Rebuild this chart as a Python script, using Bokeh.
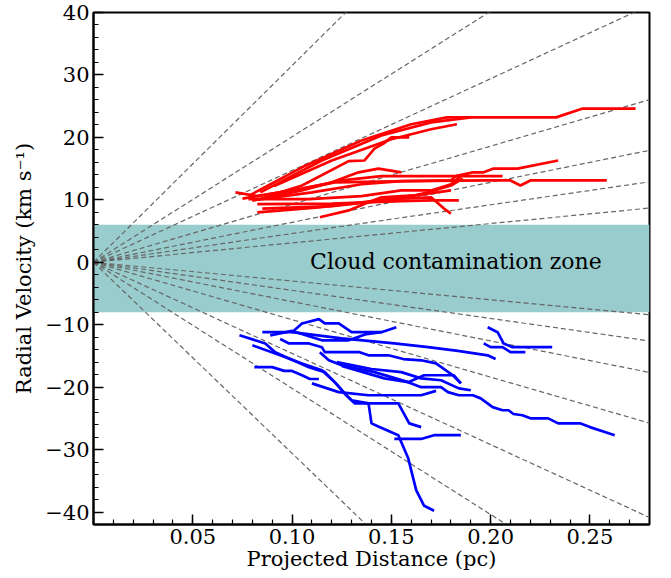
from bokeh.plotting import figure
from bokeh.models import Range1d, FixedTicker, BoxAnnotation, Label
from bokeh.embed import file_html
from bokeh.resources import INLINE

# ---- data -------------------------------------------------------------
# velocity-gradient guide lines (km/s/pc), drawn from the origin
guide_slopes_pos = [31, 46, 64, 93, 147, 201, 315]
guide_slopes_neg = [-30, -45, -63, -92, -146, -202, -306]

# cloud contamination zone (km/s)
zone_bottom = -8
zone_top = 6
zone_label = "Cloud contamination zone"

# red-shifted tracks: (projected distance pc, radial velocity km/s)
red_x = [
    [0.078, 0.105, 0.135, 0.160, 0.178, 0.233, 0.246, 0.273],
    [0.084, 0.115, 0.145, 0.170, 0.190],
    [0.091, 0.120, 0.150, 0.170, 0.183],
    [0.086, 0.105, 0.1285, 0.1365, 0.1415, 0.146, 0.150, 0.159],
    [0.080, 0.105, 0.120, 0.1335, 0.1435, 0.155],
    [0.0715, 0.0825, 0.105, 0.1215, 0.180, 0.1825, 0.191, 0.1965, 0.2015, 0.2135, 0.234],
    [0.075, 0.100, 0.125, 0.145, 0.1825, 0.206],
    [0.080, 0.110, 0.135, 0.155, 0.1985, 0.210, 0.215, 0.220, 0.2585],
    [0.078, 0.1085, 0.135, 0.155, 0.170, 0.180, 0.185],
    [0.0825, 0.120, 0.155, 0.170, 0.184],
    [0.085, 0.120, 0.155, 0.170, 0.1765, 0.180],
    [0.0825, 0.1135, 0.135, 0.155, 0.180],
    [0.114, 0.1285, 0.1385, 0.145, 0.1615, 0.1685, 0.180, 0.186],
]
red_y = [
    [10.6, 15.2, 19.5, 22.1, 23.2, 23.2, 24.6, 24.6],
    [11.2, 16.3, 20.3, 22.4, 23.2],
    [12.2, 16.3, 19.7, 21.3, 22.1],
    [10.4, 12.3, 16.2, 16.3, 18.2, 19.0, 20.0, 20.0],
    [9.9, 11.5, 12.8, 14.4, 15.0, 14.4],
    [11.2, 10.6, 11.8, 12.8, 13.1, 13.8, 14.4, 14.4, 15.0, 15.0, 16.3],
    [10.2, 11.5, 13.1, 13.8, 13.8, 13.8],
    [9.9, 11.2, 12.5, 13.0, 13.1, 13.1, 12.3, 13.1, 13.1],
    [10.1, 10.1, 10.6, 11.5, 11.5, 12.5, 13.8],
    [9.3, 9.4, 9.8, 9.9, 9.9],
    [8.6, 9.0, 10.2, 10.4, 8.6, 7.8],
    [8.0, 8.8, 9.6, 10.4, 11.5],
    [7.2, 8.3, 9.6, 10.4, 10.7, 11.2, 12.3, 13.4],
]

# blue-shifted tracks
blue_x = [
    [0.085, 0.100, 0.105, 0.1135, 0.1165, 0.1235, 0.130, 0.145, 0.1525],
    [0.089, 0.100, 0.115, 0.1285, 0.1375, 0.145],
    [0.100, 0.125, 0.1515, 0.1685, 0.1835, 0.1985, 0.2025],
    [0.094, 0.0985, 0.1085, 0.115, 0.1165, 0.134, 0.1385, 0.1485, 0.156, 0.165, 0.1725, 0.181, 0.185],
    [0.125, 0.1465, 0.1585, 0.165, 0.175, 0.1785, 0.184, 0.191, 0.195, 0.201, 0.206, 0.209,
     0.2115, 0.216, 0.220, 0.229, 0.234, 0.245, 0.250, 0.2625],
    [0.110, 0.1235, 0.1385, 0.165, 0.1725],
    [0.1515, 0.165, 0.1715, 0.185],
    [0.081, 0.090, 0.096, 0.100, 0.105, 0.109, 0.1135],
    [0.114, 0.1185, 0.125, 0.1415, 0.150, 0.1585, 0.1665, 0.1815, 0.185],
    [0.1225, 0.140, 0.155, 0.165, 0.175, 0.184, 0.190],
    [0.1985, 0.2035, 0.2065, 0.211, 0.231],
    [0.1965, 0.200, 0.206, 0.210, 0.2175],
    [0.0735, 0.0865, 0.0915, 0.0985, 0.1085, 0.1165, 0.1215, 0.1265, 0.130, 0.1385, 0.1535, 0.159, 0.165],
    [0.080, 0.094, 0.105, 0.115, 0.1215, 0.1275, 0.1315, 0.1385, 0.140, 0.144, 0.1535, 0.1585,
     0.1625, 0.1665, 0.1715],
]
blue_y = [
    [-11.2, -11.2, -9.8, -9.1, -9.8, -9.8, -11.2, -11.2, -10.4],
    [-11.7, -11.0, -12.5, -12.5, -11.5, -11.2],
    [-11.2, -12.2, -13.0, -13.6, -14.2, -14.9, -15.5],
    [-12.3, -13.0, -13.0, -13.6, -14.4, -14.4, -14.9, -14.9, -15.5, -15.7, -16.2, -18.1, -19.4],
    [-16.6, -18.6, -19.2, -20.0, -20.0, -20.8, -21.3, -21.3, -21.8, -23.2, -23.7, -23.7,
     -24.3, -24.5, -25.0, -25.0, -25.8, -25.8, -26.4, -27.7],
    [-19.4, -20.8, -21.3, -21.3, -20.6],
    [-28.3, -28.3, -27.7, -27.7],
    [-16.8, -16.8, -17.4, -17.4, -18.1, -18.7, -18.7],
    [-14.4, -15.7, -16.5, -17.6, -18.4, -19.2, -18.1, -18.1, -19.4],
    [-16.0, -17.1, -17.6, -18.6, -18.9, -20.2, -20.5],
    [-10.4, -11.2, -13.0, -13.6, -13.6],
    [-13.0, -13.6, -13.6, -14.4, -14.4],
    [-11.7, -13.0, -14.4, -15.4, -16.8, -17.6, -19.2, -21.0, -22.1, -22.6, -22.6, -25.8, -26.4],
    [-13.3, -14.9, -16.2, -17.3, -19.2, -21.4, -22.6, -22.6, -25.8, -26.4, -27.7, -31.4,
     -36.5, -39.0, -39.8],
]

x_ticks = [0.05, 0.10, 0.15, 0.20, 0.25]
x_tick_labels = ["0.05", "0.10", "0.15", "0.20", "0.25"]
y_ticks = [-40, -30, -20, -10, 0, 10, 20, 30, 40]
y_tick_labels = ["\u221240", "\u221230", "\u221220", "\u221210", "0", "10", "20", "30", "40"]

X_MIN, X_MAX = 0.0, 0.28
Y_MIN, Y_MAX = -42, 40

# ---- figure -----------------------------------------------------------
FONT = "DejaVu Serif"
p = figure(width=671, height=578, output_backend="svg", toolbar_location=None,
           x_range=Range1d(X_MIN, X_MAX), y_range=Range1d(Y_MIN, Y_MAX),
           min_border_left=93, min_border_right=22, min_border_top=12,
           min_border_bottom=54)
p.xgrid.visible = False
p.ygrid.visible = False
p.background_fill_color = "white"
p.border_fill_color = "white"
p.outline_line_color = "black"
p.outline_line_width = 2
p.outline_line_alpha = 1

band = BoxAnnotation(bottom=zone_bottom, top=zone_top, fill_color="#99cccc",
                     fill_alpha=1.0, line_color=None, level="underlay")
p.add_layout(band)

# guide lines
for s in guide_slopes_pos + guide_slopes_neg:
    p.line([X_MIN, X_MAX], [s * X_MIN, s * X_MAX], line_color="#666666",
           line_width=1.2, line_dash="5 3")

p.multi_line(red_x, red_y, line_color="#ff0000", line_width=2.7, line_join="round")
p.multi_line(blue_x, blue_y, line_color="#0000ff", line_width=2.7, line_join="round")

p.add_layout(Label(x=0.1825, y=(zone_top + zone_bottom) / 2 + 1.2, text=zone_label,
                   text_align="center", text_baseline="middle",
                   text_font=FONT, text_font_size="22px", text_color="black"))

# axes
p.xaxis.ticker = FixedTicker(ticks=x_ticks,
                             minor_ticks=[round(0.01 * i, 2) for i in range(0, 29)])
p.xaxis.major_label_overrides = {t: l for t, l in zip(x_ticks, x_tick_labels)}
p.yaxis.ticker = FixedTicker(ticks=y_ticks, minor_ticks=list(range(-42, 41, 2)))
p.yaxis.major_label_overrides = {t: l for t, l in zip(y_ticks, y_tick_labels)}

for ax in (p.xaxis[0], p.yaxis[0]):
    ax.major_tick_in = 10
    ax.major_tick_out = 0
    ax.minor_tick_in = 5
    ax.minor_tick_out = 0
    ax.major_tick_line_color = "black"
    ax.minor_tick_line_color = "black"
    ax.major_tick_line_width = 1.5
    ax.minor_tick_line_width = 1.2
    ax.axis_line_width = 2
    ax.axis_line_color = "black"
    ax.major_label_text_font = FONT
    ax.major_label_text_font_size = "21px"
    ax.major_label_text_color = "black"
    ax.axis_label_text_font = FONT
    ax.axis_label_text_font_size = "21px"
    ax.axis_label_text_font_style = "normal"
    ax.axis_label_text_color = "black"
    ax.major_label_standoff = 4

p.xaxis.axis_label = "Projected Distance (pc)"
p.yaxis.axis_label = "Radial Velocity (km s\u207b\u00b9)"
p.xaxis.axis_label_standoff = 0
p.yaxis.axis_label_standoff = 6

open("out.html", "w").write(file_html(p, INLINE))
